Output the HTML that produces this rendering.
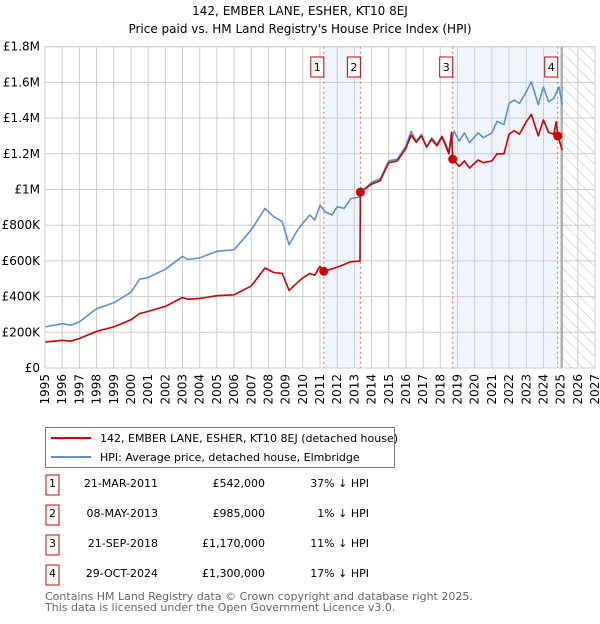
<!DOCTYPE html>
<html><head><meta charset="utf-8"><style>
body{margin:0;background:#fff;font-family:"DejaVu Sans","Liberation Sans",sans-serif;}
svg text{font-family:"DejaVu Sans","Liberation Sans",sans-serif;}
</style></head><body>
<svg id="c" width="600" height="620" xmlns="http://www.w3.org/2000/svg">
<defs><pattern id="hatch" width="8" height="8" patternUnits="userSpaceOnUse" patternTransform="rotate(-45)"><line x1="0" y1="0" x2="0" y2="8" stroke="#bbb" stroke-width="1"/></pattern></defs>
<text x="300" y="15" text-anchor="middle" font-size="12">142, EMBER LANE, ESHER, KT10 8EJ</text>
<text x="300" y="33" text-anchor="middle" font-size="12">Price paid vs. HM Land Registry's House Price Index (HPI)</text>
<g id="plot"></g>
<g>
<rect x="45.5" y="427.5" width="349" height="40" fill="#fff" stroke="#777"/>
<line x1="51" y1="438" x2="91" y2="438" stroke="#cc0000" stroke-width="2"/>
<text x="100" y="442" font-size="11">142, EMBER LANE, ESHER, KT10 8EJ (detached house)</text>
<line x1="51" y1="457" x2="91" y2="457" stroke="#5f8fd0" stroke-width="2"/>
<text x="100" y="461" font-size="11">HPI: Average price, detached house, Elmbridge</text>
</g>
<g id="table" font-size="11"></g>
<text x="45" y="600" font-size="11" fill="#666">Contains HM Land Registry data © Crown copyright and database right 2025.</text>
<text x="45" y="611" font-size="11" fill="#666">This data is licensed under the Open Government Licence v3.0.</text>
</svg>
<script>
const hpiYears=[1995,1996,1996.5,1997,1998,1999,2000,2000.5,2001,2002,2003,2003.3,2004,2005,2006,2007,2007.8,2008.3,2008.8,2009.2,2009.7,2010,2010.4,2010.7,2011,2011.3,2011.7,2012,2012.4,2012.8,2013.3,2013.5,2014,2014.5,2015,2015.5,2016,2016.3,2016.6,2016.9,2017.2,2017.5,2017.8,2018.1,2018.5,2018.8,2019.1,2019.4,2019.7,2020.2,2020.5,2021,2021.3,2021.7,2022,2022.3,2022.6,2023,2023.3,2023.7,2024,2024.3,2024.6,2024.9,2025.1];
const hpiValues=[230,248,240,258,332,365,424,497,507,553,626,608,617,654,663,774,894,848,820,691,774,811,857,829,912,875,857,903,894,949,958,995,1041,1060,1161,1170,1244,1326,1271,1308,1234,1290,1253,1299,1216,1326,1271,1317,1262,1317,1290,1317,1382,1363,1483,1501,1483,1547,1603,1474,1575,1492,1510,1575,1474];
const propYears=[1995,1996,1996.5,1997,1998,1999,2000,2000.5,2001,2002,2003,2003.3,2004,2005,2006,2007,2007.8,2008.3,2008.8,2009.2,2009.7,2010,2010.4,2010.7,2011,2011.22,2011.7,2012,2012.4,2012.8,2013.33,2013.35,2014,2014.5,2015,2015.5,2016,2016.3,2016.6,2016.9,2017.2,2017.5,2017.8,2018.1,2018.5,2018.65,2018.72,2019.1,2019.4,2019.7,2020.2,2020.5,2021,2021.3,2021.7,2022,2022.3,2022.6,2023,2023.3,2023.7,2024,2024.3,2024.6,2024.75,2024.83,2025.1];
const propValues=[145,155,150,165,205,230,270,305,317,345,395,385,390,405,410,460,560,535,530,435,480,505,530,520,570,542,555,565,580,595,600,985,1030,1050,1150,1160,1230,1305,1265,1300,1240,1280,1245,1295,1200,1320,1170,1130,1160,1120,1165,1150,1160,1200,1200,1310,1330,1310,1380,1420,1300,1390,1320,1310,1380,1300,1220];
const saleYears=[2011.22,2013.35,2018.72,2024.83];
const saleValues=[542,985,1170,1300];
const saleLabels=["1","2","3","4"];
const saleDates=["21-MAR-2011","08-MAY-2013","21-SEP-2018","29-OCT-2024"];
const salePrices=["£542,000","£985,000","£1,170,000","£1,300,000"];
const saleDiffs=["37% ↓ HPI","1% ↓ HPI","11% ↓ HPI","17% ↓ HPI"];
const yTicks=[0,200,400,600,800,1000,1200,1400,1600,1800];
const yTickLabels=["£0","£200K","£400K","£600K","£800K","£1M","£1.2M","£1.4M","£1.6M","£1.8M"];
const NS="http://www.w3.org/2000/svg";
const X0=45,X1=595,Y0=368,Y1=46.7;
const x=y=>X0+(y-1995)*(X1-X0)/32;
const yv=v=>Y0-v*(Y0-Y1)/1800;
const g=document.getElementById('plot');
function mk(t,a,p){const e=document.createElementNS(NS,t);for(const k in a)e.setAttribute(k,a[k]);(p||g).appendChild(e);return e;}
let s1=mk('rect',{x:x(saleYears[0]),y:Y1,width:x(saleYears[1])-x(saleYears[0]),height:Y0-Y1,fill:'#f0f4fc'});


let s2=mk('rect',{x:x(saleYears[2]),y:Y1,width:x(saleYears[3])-x(saleYears[2]),height:Y0-Y1,fill:'#f0f4fc'});


let ht=mk('rect',{x:x(2025.08),y:Y1,width:X1-x(2025.08),height:Y0-Y1,fill:'url(#hatch)'});


for(let yr=1995;yr<=2027;yr++){
 let l=mk('line',{x1:x(yr),x2:x(yr),y1:Y1,y2:Y0,stroke:'#ccc','stroke-width':1});
 
 
 let t=mk('text',{x:0,y:0,'font-size':12,'text-anchor':'end',transform:`translate(${x(yr)+4},${Y0+6}) rotate(-90)`});
 t.textContent=yr;
 
 
}
yTicks.forEach((v,i)=>{
 let l=mk('line',{x1:X0,x2:X1,y1:yv(v),y2:yv(v),stroke:'#ccc','stroke-width':1});
 
 
 let t=mk('text',{x:40,y:yv(v)+4,'font-size':12,'text-anchor':'end'});
 t.textContent=yTickLabels[i];
 
 
});
let nl=mk('line',{x1:x(2025.08),x2:x(2025.08),y1:Y1,y2:Y0,stroke:'#999','stroke-width':1.5});


saleYears.forEach((yr,i)=>{
 let l=mk('line',{x1:x(yr),x2:x(yr),y1:Y1,y2:Y0,stroke:'#f06060','stroke-width':1,'stroke-dasharray':'2,3'});
 
 
});
function path(xs,vs,col,name){
 let d=xs.map((yr,i)=>(i?'L':'M')+x(yr).toFixed(1)+','+yv(vs[i]).toFixed(1)).join('');
 let p=mk('path',{d:d,fill:'none',stroke:col,'stroke-width':1.6,'stroke-linejoin':'round'});
 
 
}
path(hpiYears,hpiValues,'#5f8fd0','hpi-line');
path(propYears,propValues,'#cc0000','property-line');
saleYears.forEach((yr,i)=>{
 let c=mk('circle',{cx:x(yr),cy:yv(saleValues[i]),r:4.5,fill:'#cc0000'});
 
 
 let b=mk('rect',{x:x(yr)-13,y:57,width:13,height:20,fill:'#fff',stroke:'#cc0000'});
 
 
 let t=mk('text',{x:x(yr)-6.5,y:71,'font-size':11,'text-anchor':'middle'});
 t.textContent=saleLabels[i];
 
 
});
let bx=mk('rect',{x:X0,y:Y1,width:X1-X0,height:Y0-Y1,fill:'none',stroke:'#ccc'});


const tb=document.getElementById('table');
saleLabels.forEach((lab,i)=>{
 const cy=483+i*30;
 let b=mk('rect',{x:46,y:cy-8,width:13,height:20,fill:'#fff',stroke:'#cc0000'},tb);
 
 
 const cells=[[52.5,'middle',lab,'table-row-number'],[158,'end',saleDates[i],'table-row-date'],[265,'end',salePrices[i],'table-row-price'],[369,'end',saleDiffs[i],'table-row-hpi-diff']];
 cells.forEach(c=>{
  let t=mk('text',{x:c[0],y:cy+4,'text-anchor':c[1]},tb);
  t.textContent=c[2];
  
  
 });
});
</script>
</body></html>
